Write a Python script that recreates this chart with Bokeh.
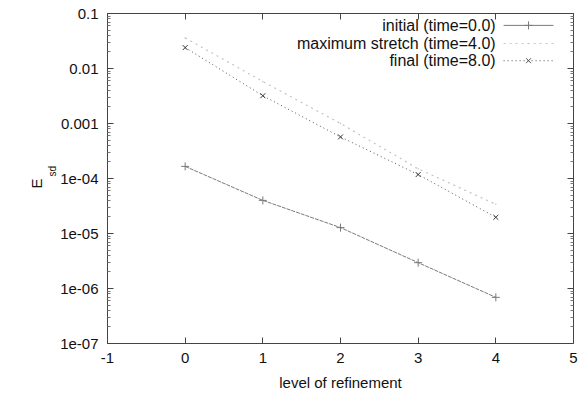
import math
from bokeh.plotting import figure
from bokeh.models import (Range1d, LinearAxis, LogAxis, FixedTicker,
                          CustomJSTickFormatter, Label, LinearScale, Title)
from bokeh.embed import file_html
from bokeh.resources import INLINE

# ---- data ----
levels = [0, 1, 2, 3, 4]
initial = [1.66e-4, 4.0e-5, 1.28e-5, 2.95e-6, 6.9e-7]
max_stretch = [3.6e-2, 5.8e-3, 1.0e-3, 1.5e-4, 3.4e-5]
final = [2.4e-2, 3.2e-3, 5.7e-4, 1.18e-4, 1.97e-5]

x_ticks = [-1, 0, 1, 2, 3, 4, 5]
x_tick_labels = ["-1", "0", "1", "2", "3", "4", "5"]
y_ticks = [1e-7, 1e-6, 1e-5, 1e-4, 1e-3, 1e-2, 1e-1]
y_tick_labels = ["1e-07", "1e-06", "1e-05", "1e-04", "0.001", "0.01", "0.1"]
series_labels = ["initial (time=0.0)", "maximum stretch (time=4.0)", "final (time=8.0)"]
x_label = "level of refinement"
y_label_main = "E"
y_label_sub = "sd"

FONT = "Liberation Sans"
TXT = "#111111"

y_minor = [m * 10.0 ** e for e in range(-7, -1) for m in range(2, 10)]

p = figure(frame_width=466, frame_height=330,
           x_range=Range1d(-1, 5), y_range=Range1d(1e-7, 0.1),
           y_axis_type="log", output_backend="svg", toolbar_location=None,
           min_border_left=107, min_border_right=8, min_border_top=13,
           min_border_bottom=50, x_axis_location=None, y_axis_location=None)
p.grid.visible = False
p.outline_line_color = "#444444"
p.outline_line_width = 1
p.background_fill_color = "white"
p.border_fill_color = "white"

yfmt = CustomJSTickFormatter(args=dict(ylabs=y_tick_labels), code="""
    const i = Math.round(Math.log10(tick)) + 7;
    return (i >= 0 && i < ylabs.length) ? ylabs[i] : "";
""")
xfmt = CustomJSTickFormatter(args=dict(xvals=x_ticks, xlabs=x_tick_labels), code="""
    const i = xvals.indexOf(Math.round(tick));
    return i >= 0 ? xlabs[i] : "";
""")
blank = CustomJSTickFormatter(code="return '';")


def style_axis(ax):
    ax.axis_line_color = None
    ax.major_tick_in = 6
    ax.major_tick_out = 0
    ax.minor_tick_in = 3
    ax.minor_tick_out = 0
    ax.major_tick_line_color = "#444444"
    ax.minor_tick_line_color = "#777777"
    ax.major_label_text_font = FONT
    ax.major_label_text_color = TXT
    ax.major_label_text_font_size = "15px"


xb = LinearAxis(ticker=FixedTicker(ticks=x_ticks), formatter=xfmt)
style_axis(xb)
xb.major_label_standoff = 9
xb.axis_label = x_label
xb.axis_label_text_font = FONT
xb.axis_label_text_font_size = "15px"
xb.axis_label_text_font_style = "normal"
xb.axis_label_text_color = TXT
xb.axis_label_standoff = 8
p.add_layout(xb, "below")

xt = LinearAxis(ticker=FixedTicker(ticks=x_ticks), formatter=blank)
style_axis(xt)
xt.major_label_standoff = 0
p.add_layout(xt, "above")

yl = LogAxis(ticker=FixedTicker(ticks=y_ticks, minor_ticks=y_minor), formatter=yfmt)
style_axis(yl)
yl.major_label_standoff = 9
p.add_layout(yl, "left")

yr = LogAxis(ticker=FixedTicker(ticks=y_ticks, minor_ticks=y_minor), formatter=blank)
style_axis(yr)
yr.major_label_standoff = 0
p.add_layout(yr, "right")

# invisible spacer axis so the E_sd label sits further left
spacer = LogAxis(ticker=FixedTicker(ticks=y_ticks), formatter=blank)
spacer.axis_line_color = None
spacer.major_tick_line_color = None
spacer.minor_tick_line_color = None
spacer.major_tick_in = 0
spacer.major_tick_out = 0
spacer.minor_tick_in = 0
spacer.minor_tick_out = 0
spacer.major_label_standoff = 18
p.add_layout(spacer, "left")

# ---- y axis label E_sd as two rotated titles in the left panel ----
t_sub = Title(text=y_label_sub, align="left", offset=167, standoff=0,
              text_font=FONT, text_font_size="10px", text_font_style="normal",
              text_color=TXT)
t_main = Title(text=y_label_main, align="left", offset=155, standoff=0,
               text_font=FONT, text_font_size="15px", text_font_style="normal",
               text_color=TXT)
p.add_layout(t_sub, "left")
p.add_layout(t_main, "left")

# ---- data series ----
C_INIT = "#7a7a7a"
C_MAX = "#c4c4c4"
C_FIN = "#555555"

p.line(levels, initial, line_color=C_INIT, line_width=1, line_dash="4 1")
p.scatter(levels, initial, marker="cross", size=8, line_color=C_INIT, line_width=1)

p.line(levels, max_stretch, line_color=C_MAX, line_width=1.2, line_dash="2 4")
p.scatter(levels, max_stretch, marker="dot", size=6, line_color=C_MAX, fill_color=C_MAX)

p.line(levels, final, line_color=C_FIN, line_width=1, line_dash="1 3")
p.scatter(levels, final, marker="x", size=7, line_color="#333333", line_width=1)

# ---- gnuplot-style key (top right) ----
p.extra_x_ranges = {"lg": Range1d(0, 1)}
p.extra_y_ranges = {"lg": Range1d(0, 1)}
p.extra_x_scales = {"lg": LinearScale()}
p.extra_y_scales = {"lg": LinearScale()}

rows = [0.964, 0.909, 0.857]
text_right = 0.833
s0, s1 = 0.850, 0.957
sm = (s0 + s1) / 2
styles = [
    dict(color=C_INIT, dash="solid", marker="cross", msize=8),
    dict(color=C_MAX, dash="2 4", marker="dot", msize=6),
    dict(color=C_FIN, dash="1 3", marker="x", msize=7),
]
for lab, ry, st in zip(series_labels, rows, styles):
    p.add_layout(Label(x=text_right, y=ry, x_range_name="lg", y_range_name="lg",
                       text=lab, text_align="right", text_baseline="middle",
                       text_font=FONT, text_font_size="16px", text_color=TXT))
    p.line([s0, s1], [ry, ry], x_range_name="lg", y_range_name="lg",
           line_color=st["color"], line_dash=st["dash"], line_width=1)
    p.scatter([sm], [ry], x_range_name="lg", y_range_name="lg",
              marker=st["marker"], size=st["msize"], line_color=st["color"],
              fill_color=st["color"])

open("out.html", "w").write(file_html(p, INLINE))
